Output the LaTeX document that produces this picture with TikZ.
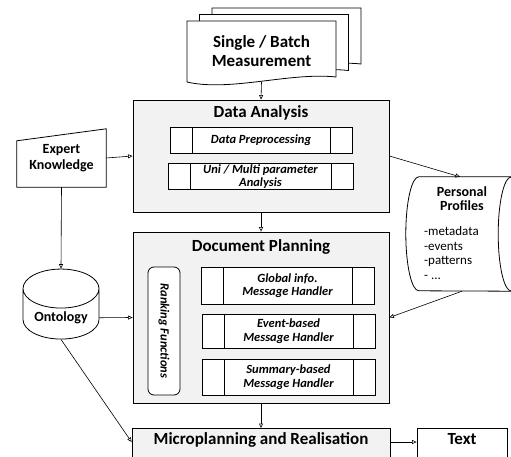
\documentclass[tikz,border=0pt]{standalone}
\usepackage{fontspec}
\setmainfont{Carlito}
\usetikzlibrary{shapes.geometric,arrows.meta}
\definecolor{panelgray}{RGB}{242,242,242}

\tikzset{
  >={Triangle[open,length=4.5pt,width=4pt]},
  arr/.style={->, line width=0.6pt},
  panel/.style={draw, line width=0.8pt, fill=panelgray},
  heading/.style={font=\fontsize{17}{19}\selectfont\bfseries},
  minor/.style={font=\fontsize{14}{16.5}\selectfont\bfseries},
  procbox/.style={draw, line width=0.8pt, fill=white, align=center, inner sep=1pt,
    font=\fontsize{12.5}{13.5}\selectfont\bfseries\itshape,
    path picture={
      \draw[line width=0.8pt] ([xshift=22pt]path picture bounding box.north west) -- ([xshift=22pt]path picture bounding box.south west);
      \draw[line width=0.8pt] ([xshift=-22pt]path picture bounding box.north east) -- ([xshift=-22pt]path picture bounding box.south east);
    }},
  store/.style={cylinder, draw, line width=0.8pt, fill=white},
}

\begin{document}
\begin{tikzpicture}[x=1pt,y=-1pt]
  \useasboundingbox (0,0) rectangle (511,457);
  \clip (0,0) rectangle (511,457);

  % stack of measurements
  \foreach \s in {2,1,0}
    \filldraw[fill=white, line width=0.8pt, shift={(12.5*\s,-6.5*\s)}] (187,82) -- (187,21) -- (336,21) -- (336,77) .. controls (290,72) and (230,92) .. (187,82);
  \node[heading, align=center, minimum width=149, minimum height=61] (meas) at (261.5,51.5) {Single / Batch\\Measurement};

  % data analysis
  \node[panel, minimum width=256, minimum height=112] (da) at (261,156) {};
  \node[heading] (datitle) at (261,113) {Data Analysis};
  \node[procbox, minimum width=182, minimum height=26] (dpre) at (261,140) {Data Preprocessing};
  \node[procbox, minimum width=185, minimum height=25] (uni) at (260.5,176.5) {Uni / Multi parameter\\Analysis};

  % document planning
  \node[panel, minimum width=256, minimum height=171] (dp) at (261,317.5) {};
  \node[heading] (dptitle) at (261,247) {Document Planning};
  \node[draw, fill=white, line width=0.8pt, rounded corners=6pt, rotate=-90, minimum width=128, minimum height=32,
    font=\fontsize{12.5}{13.5}\selectfont\bfseries\itshape] (rank) at (164,331) {Ranking Functions};
  \node[procbox, minimum width=173, minimum height=37] (glob) at (287.5,285.5) {Global info.\\Message Handler};
  \node[procbox, minimum width=173, minimum height=34] (evnt) at (288.5,331) {Event-based\\Message Handler};
  \node[procbox, minimum width=173, minimum height=36] (summ) at (288.5,377) {Summary-based\\Message Handler};

  % output
  \node[panel, heading, anchor=north, minimum width=258, inner ysep=3pt, text height=13pt, text depth=14pt] (mr) at (261,428) {Microplanning and Realisation};
  \node[draw, fill=white, line width=0.8pt, heading, anchor=north, minimum width=90, inner ysep=3pt, text height=13pt, text depth=14pt] (txt) at (462,428) {Text};

  % knowledge sources
  \node[minor, align=center, minimum width=89, minimum height=58] (expert) at (61.5,158) {Expert\\Knowledge};
  \draw[line width=0.8pt] (expert.south west) -- ([yshift=-12pt]expert.north west) -- (expert.north east) -- (expert.south east) -- cycle;
  \node[store, minor, shape border rotate=90, aspect=0.65, minimum width=76, minimum height=70] (onto) at (61,318) {Ontology};

  % personal profiles (lying cylinder)
  \node[minimum width=118, minimum height=114] (pp) at (465,234) {};
  \filldraw[fill=white, line width=0.8pt] ([xshift=-13pt]pp.north east) -- ([xshift=13pt]pp.north west)
    arc[start angle=90, end angle=270, x radius=13pt, y radius=57pt] -- ([xshift=-13pt]pp.south east)
    arc[start angle=-90, end angle=90, x radius=13pt, y radius=57pt] -- cycle;
  \draw[line width=0.8pt] ([xshift=-13pt]pp.east) ellipse [x radius=13pt, y radius=57pt];
  \node[minor, align=center, font=\fontsize{14}{14}\selectfont\bfseries] (pptitle) at (462,199) {Personal\\Profiles};
  \node[align=left, anchor=north west, inner sep=0pt, font=\fontsize{13}{14.8}\selectfont] (ppitems) at (424,226) {-metadata\\-events\\-patterns\\- ...};

  \draw[arr] (meas.south) -- (da.north);
  \draw[arr] (expert.east) -- (da.west);
  \draw[arr] (da.south) -- (dp.north);
  \draw[arr] (expert.south) -- (onto.top);
  \draw[arr] (onto) -- (dp.west);
  \draw[arr] (onto.bottom) -- (mr.mid west);
  \draw[arr] (dp.south) -- (mr.north);
  \draw[arr] (mr.mid east) -- (txt.mid west);
  \draw[arr] (da.east) -- ([xshift=-5pt]pp.north);
  \draw[arr] ([xshift=-3pt]pp.south) -- (dp.east);
\end{tikzpicture}
\end{document}
